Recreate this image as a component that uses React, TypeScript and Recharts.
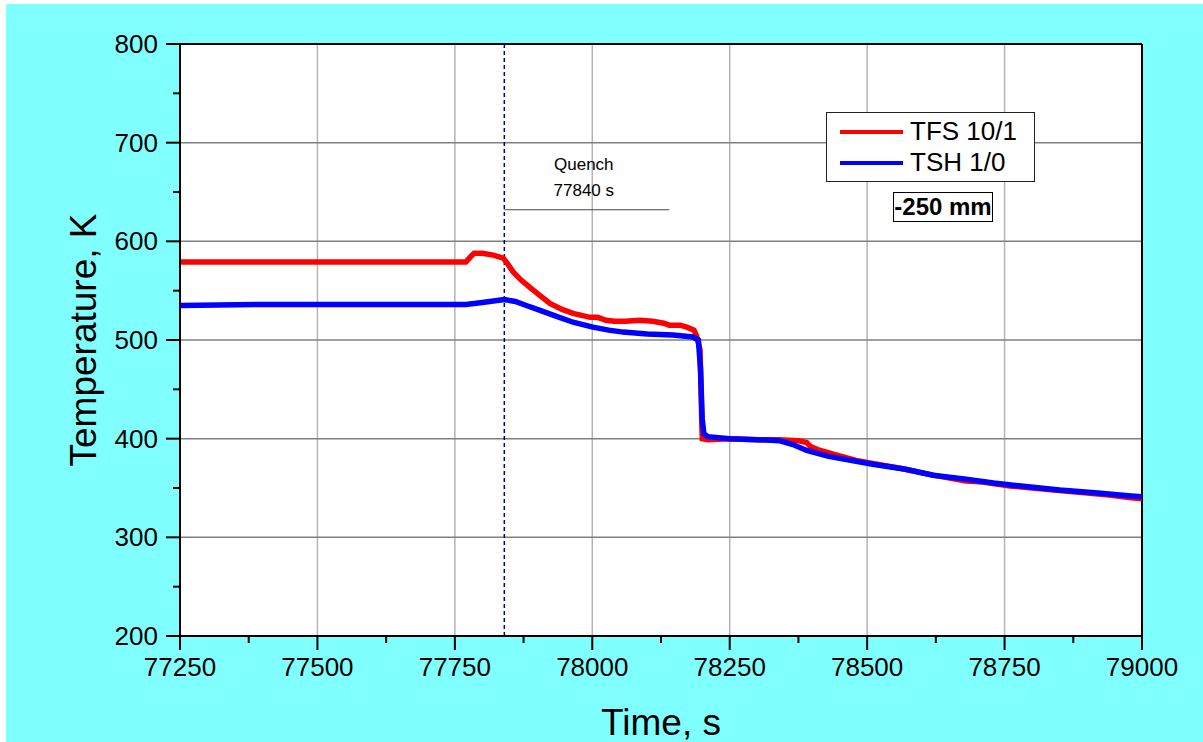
import { LineChart, Line, XAxis, YAxis, ReferenceLine, Legend } from 'recharts';

// TFS 10/1 (red)
const tfsTime = [
  77250, 77400, 77600, 77770, 77778, 77785, 77800, 77820, 77838, 77845, 77856, 77870, 77887, 77905,
  77923, 77945, 77965, 77996, 78010, 78025, 78040, 78060, 78087, 78110, 78130, 78140, 78160, 78172,
  78185, 78190, 78196, 78199, 78200, 78210, 78250, 78300, 78340, 78375, 78390, 78397, 78410, 78440,
  78480, 78510, 78560, 78620, 78680, 78710, 78760, 78820, 78880, 78940, 78980, 79000,
];
const tfsTemp = [
  579, 579, 579, 579, 584, 588, 588, 586, 583, 578, 569, 561, 553, 545,
  537, 531, 527, 523, 523, 520, 519, 519, 520, 519, 517, 515, 515, 513,
  510, 504, 490, 420, 400, 399, 400, 399, 399, 398, 396, 392, 389, 384,
  378, 375, 370, 363, 357, 356, 352, 349, 346, 343, 340, 339,
];

// TSH 1/0 (blue)
const tshTime = [
  77250, 77400, 77600, 77770, 77800, 77840, 77860, 77880, 77905, 77935, 77965, 78001, 78030, 78056,
  78100, 78147, 78183, 78193, 78197, 78200, 78203, 78210, 78250, 78300, 78340, 78365, 78390, 78430,
  78470, 78510, 78570, 78620, 78680, 78730, 78780, 78850, 78920, 78980, 79000,
];
const tshTemp = [
  535, 536, 536, 536, 538, 541, 539, 535, 530, 524, 518, 513, 510, 508,
  506, 505, 503, 500, 470, 420, 405, 402, 400, 399, 398, 394, 388, 382,
  378, 374, 369, 363, 359, 355, 352, 348, 345, 342, 341,
];

const xMajor = [77250, 77500, 77750, 78000, 78250, 78500, 78750, 79000];
const xMinor = [77375, 77625, 77875, 78125, 78375, 78625, 78875];
const yMajor = [200, 300, 400, 500, 600, 700, 800];
const yMinor = [250, 350, 450, 550, 650, 750];

const quenchTime = 77840;
const quenchNoteEnd = 78140;
const quenchNoteLevel = 632;
const depthLabel = '-250 mm';

const tfsData = tfsTime.map((t, i) => ({ t, v: tfsTemp[i] }));
const tshData = tshTime.map((t, i) => ({ t, v: tshTemp[i] }));
const xTicks = [...xMajor, ...xMinor].sort((a, b) => a - b);
const yTicks = [...yMajor, ...yMinor].sort((a, b) => a - b);

const FONT = '"Liberation Sans", Arial, sans-serif';

function YTick({ x, y, payload }: any) {
  const major = yMajor.includes(payload.value);
  const edge = x + 22;
  return (
    <g>
      <line x1={edge - (major ? 14 : 7)} x2={edge} y1={y} y2={y} stroke="#000" strokeWidth={2} />
      {major && (
        <text x={x} y={y} textAnchor="end" dominantBaseline="central" fontSize={26} fontFamily={FONT} fill="#000">
          {payload.value}
        </text>
      )}
    </g>
  );
}

function XTick({ x, y, payload }: any) {
  const major = xMajor.includes(payload.value);
  const edge = y - 21;
  return (
    <g>
      <line x1={x} x2={x} y1={edge} y2={edge + (major ? 14 : 7)} stroke="#000" strokeWidth={2} />
      {major && (
        <text x={x} y={y + 19} textAnchor="middle" fontSize={26} fontFamily={FONT} fill="#000">
          {payload.value}
        </text>
      )}
    </g>
  );
}

function LegendBox({ payload }: any) {
  return (
    <div
      style={{
        width: 209,
        height: 70,
        boxSizing: 'border-box',
        background: '#fff',
        border: '1px solid #222',
        fontFamily: FONT,
        fontSize: 26,
        color: '#000',
        paddingTop: 3,
      }}
    >
      {(payload || []).map((p: any) => (
        <div key={p.value} style={{ display: 'flex', alignItems: 'center', height: 31 }}>
          <div style={{ width: 63, height: 4, background: p.color, marginLeft: 13, marginRight: 7 }} />
          <span>{p.value}</span>
        </div>
      ))}
    </div>
  );
}

export default function App() {
  return (
    <>
      <style>{'body{margin:0}'}</style>
      <div
        style={{ position: 'absolute', left: 6, top: 4, width: 1197, height: 738, background: '#80FFFF' }}
      >
        <LineChart width={1197} height={738} margin={{ top: 40, right: 61, left: 0, bottom: 0 }}>
          <rect x={174} y={40} width={962} height={592} fill="#fff" />
          <XAxis
            type="number"
            dataKey="t"
            domain={[77250, 79000]}
            ticks={xTicks}
            interval={0}
            allowDataOverflow
            height={106}
            tickSize={14}
            tickMargin={7}
            tickLine={false}
            tick={<XTick />}
            axisLine={{ stroke: '#000', strokeWidth: 2 }}
            label={(props: any) => {
              const vb = props.viewBox;
              return (
                <text x={vb.x + vb.width / 2} y={731} textAnchor="middle" fontSize={37} fontFamily={FONT} fill="#000">
                  Time, s
                </text>
              );
            }}
          />
          <YAxis
            type="number"
            domain={[200, 800]}
            ticks={yTicks}
            interval={0}
            allowDataOverflow
            width={174}
            tickSize={14}
            tickMargin={8}
            tickLine={false}
            tick={<YTick />}
            axisLine={{ stroke: '#000', strokeWidth: 2 }}
            label={(props: any) => {
              const vb = props.viewBox;
              const cy = vb.y + vb.height / 2;
              return (
                <text
                  x={77}
                  y={cy}
                  transform={`rotate(-90, 77, ${cy})`}
                  textAnchor="middle"
                  dominantBaseline="central"
                  fontSize={37}
                  fontFamily={FONT}
                  fill="#000"
                >
                  Temperature, K
                </text>
              );
            }}
          />
          {xMajor.slice(1, -1).map((v) => (
            <ReferenceLine key={'gx' + v} x={v} stroke="#b4b4b4" strokeWidth={1.5} />
          ))}
          {yMajor.slice(1, -1).map((v) => (
            <ReferenceLine key={'gy' + v} y={v} stroke="#808080" strokeWidth={1.5} />
          ))}
          <ReferenceLine y={800} stroke="#000" strokeWidth={2} />
          <ReferenceLine x={79000} stroke="#000" strokeWidth={2} />
          <ReferenceLine x={quenchTime} stroke="#000080" strokeWidth={1.5} strokeDasharray="4 3" />
          <ReferenceLine
            segment={[
              { x: quenchTime, y: quenchNoteLevel },
              { x: quenchNoteEnd, y: quenchNoteLevel },
            ]}
            stroke="#444"
            strokeWidth={1.2}
            label={(props: any) => {
              const vb = props.viewBox;
              const cx = vb.x + vb.width / 2;
              return (
                <g fontSize={17} fontFamily={FONT} fill="#000" textAnchor="middle">
                  <text x={cx - 3} y={vb.y - 40}>Quench</text>
                  <text x={cx - 3} y={vb.y - 14}>{quenchTime} s</text>
                </g>
              );
            }}
          />
          <Line
            data={tfsData}
            dataKey="v"
            name="TFS 10/1"
            stroke="#ff0000"
            strokeWidth={5.5}
            dot={false}
            type="linear"
            isAnimationActive={false}
          />
          <Line
            data={tshData}
            dataKey="v"
            name="TSH 1/0"
            stroke="#0000ff"
            strokeWidth={5.5}
            dot={false}
            type="linear"
            isAnimationActive={false}
          />
          <Legend
            layout="vertical"
            align="center"
            verticalAlign="middle"
            content={<LegendBox />}
            wrapperStyle={{ left: 820, top: 108, width: 209, height: 70 }}
          />
        </LineChart>
        <div
          style={{
            position: 'absolute',
            left: 887,
            top: 188,
            width: 100,
            height: 30,
            boxSizing: 'border-box',
            border: '1px solid #000',
            background: '#fff',
            fontFamily: FONT,
            fontWeight: 'bold',
            fontSize: 24,
            lineHeight: '28px',
            textAlign: 'center',
            color: '#000',
          }}
        >
          {depthLabel}
        </div>
      </div>
    </>
  );
}
